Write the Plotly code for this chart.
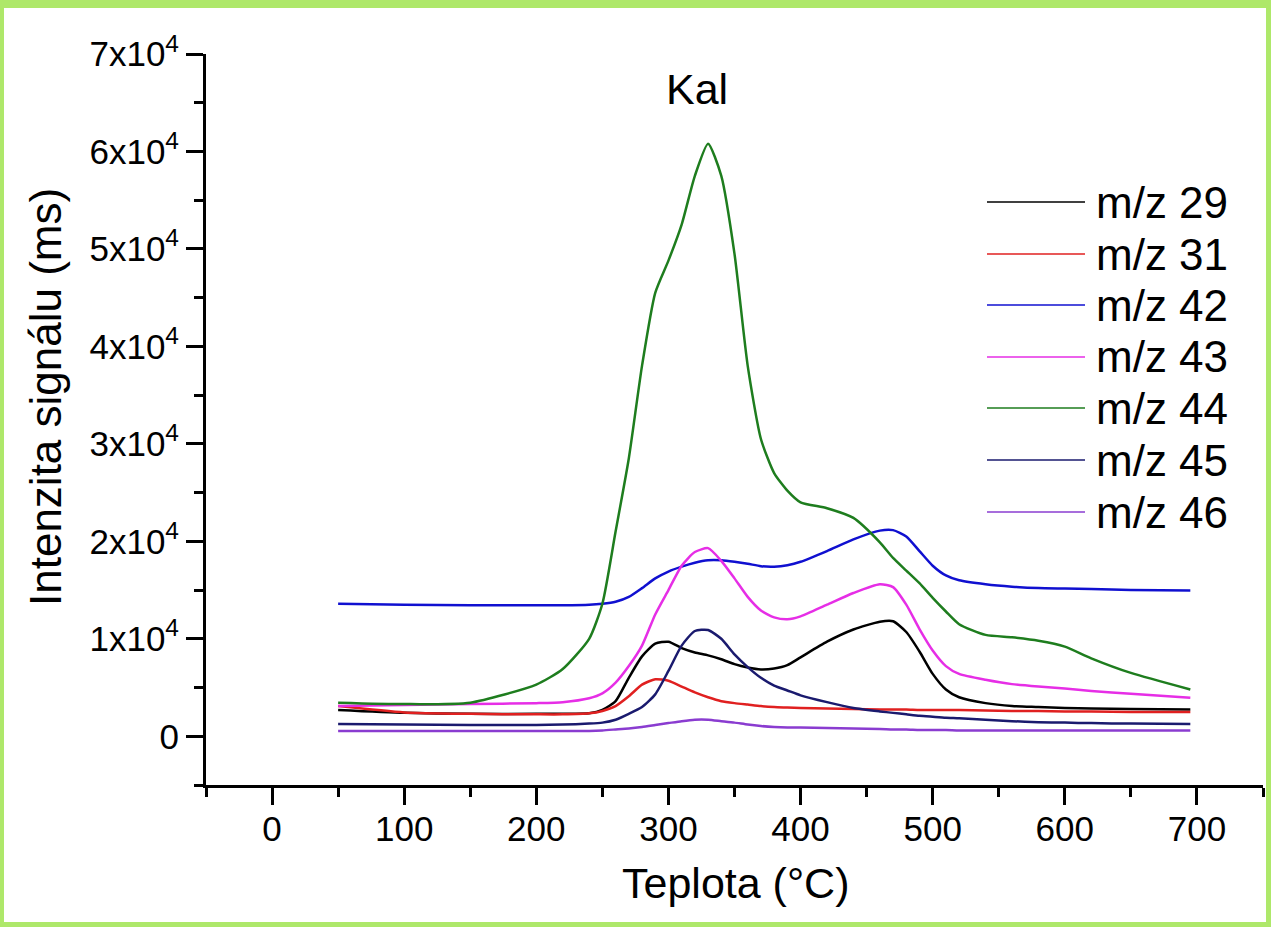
import plotly.graph_objects as go

# ---------------- data ----------------
temperature = [50, 100, 150, 200, 220, 240, 250, 260, 270, 280, 290, 300, 310, 320, 330,
               340, 350, 360, 370, 380, 390, 400, 420, 440, 460, 470, 480, 490, 500, 510,
               520, 540, 560, 580, 600, 620, 650, 695]

mz29 = [2700, 2400, 2300, 2300, 2300, 2350, 2700, 3600, 6000, 8200, 9500, 9700, 9050, 8600, 8300,
        7900, 7400, 7050, 6850, 6950, 7300, 8100, 9700, 10950, 11750, 11800, 10700, 8700, 6400, 4800,
        4000, 3400, 3100, 3000, 2900, 2850, 2800, 2750]
mz31 = [3100, 2450, 2300, 2250, 2250, 2350, 2600, 3100, 4100, 5300, 5850, 5700, 5100, 4500, 4000,
        3600, 3400, 3250, 3100, 3000, 2950, 2900, 2850, 2800, 2750, 2750, 2750, 2700, 2700, 2700,
        2700, 2650, 2600, 2600, 2550, 2550, 2500, 2500]
mz42 = [13600, 13500, 13450, 13450, 13450, 13500, 13600, 13800, 14300, 15200, 16200, 16900, 17400, 17800, 18050,
        18050, 17900, 17700, 17450, 17400, 17550, 17900, 19000, 20200, 21100, 21150, 20500, 19000, 17500, 16500,
        16000, 15600, 15350, 15200, 15150, 15100, 15000, 14950]
mz43 = [3100, 3200, 3300, 3400, 3500, 3900, 4400, 5500, 7200, 9300, 12500, 15000, 17500, 18900, 19300,
        18000, 16200, 14300, 12900, 12200, 12000, 12300, 13500, 14700, 15600, 15300, 13500, 11000, 8800, 7200,
        6400, 5800, 5350, 5100, 4900, 4650, 4350, 3950]
mz44 = [3450, 3300, 3450, 5300, 6900, 10000, 13600, 21000, 28500, 38000, 45500, 48800, 52500, 57500, 60800,
        57500, 49500, 38000, 30500, 27000, 25200, 24000, 23400, 22400, 19900, 18300, 17000, 15700, 14200, 12800,
        11500, 10400, 10150, 9800, 9200, 8000, 6500, 4800]
mz45 = [1250, 1200, 1150, 1150, 1200, 1300, 1400, 1700, 2300, 3000, 4300, 6700, 9300, 10800, 10900,
        10000, 8400, 7100, 6000, 5200, 4700, 4200, 3500, 2900, 2550, 2400, 2250, 2100, 2000, 1900,
        1850, 1700, 1550, 1450, 1400, 1350, 1300, 1250]
mz46 = [550, 550, 550, 550, 550, 550, 600, 700, 800, 950, 1150, 1350, 1550, 1700, 1700,
        1550, 1400, 1200, 1050, 950, 900, 900, 850, 800, 750, 700, 700, 650, 650, 650,
        600, 600, 600, 600, 600, 600, 600, 600]

series_names = ["m/z 29", "m/z 31", "m/z 42", "m/z 43", "m/z 44", "m/z 45", "m/z 46"]
series_values = [mz29, mz31, mz42, mz43, mz44, mz45, mz46]

x_tick_values = [0, 100, 200, 300, 400, 500, 600, 700]
x_tick_labels = ["0", "100", "200", "300", "400", "500", "600", "700"]
y_tick_values = [0, 10000, 20000, 30000, 40000, 50000, 60000, 70000]
y_tick_labels = ["0", "1x10<sup>4</sup>", "2x10<sup>4</sup>", "3x10<sup>4</sup>", "4x10<sup>4</sup>",
                 "5x10<sup>4</sup>", "6x10<sup>4</sup>", "7x10<sup>4</sup>"]

chart_title = "Kal"
x_title = "Teplota (°C)"
y_title = "Intenzita signálu (ms)"

# ---------------- styles ----------------
colors = ["#000000", "#e02020", "#1010d0", "#e62ee6", "#1e7d1e", "#1a1a6e", "#8a3cd0"]
FONT = "Liberation Sans, Arial, sans-serif"
W, H = 1271, 927
ML, MR, MT, MB = 206, 8, 54, 142
PW, PH = W - ML - MR, H - MT - MB


def px_to_paper_x(px):
    return (px - ML) / PW


def py_to_paper_y(py):
    return (H - MB - py) / PH


fig = go.Figure()
for name, vals, col in zip(series_names, series_values, colors):
    fig.add_trace(go.Scatter(
        x=temperature, y=vals, mode="lines", name=name,
        line=dict(color=col, width=2.5, shape="spline", smoothing=0.6),
        showlegend=False,
    ))

shapes = []
annotations = []

# custom legend (long sample lines like the original)
legend_rows_py = [202, 254, 305, 357, 408, 460, 512]
for name, col, py in zip(series_names, colors, legend_rows_py):
    yy = py_to_paper_y(py)
    shapes.append(dict(type="line", xref="paper", yref="paper",
                       x0=px_to_paper_x(987), x1=px_to_paper_x(1085), y0=yy, y1=yy,
                       line=dict(color=col, width=1.5)))
    annotations.append(dict(xref="paper", yref="paper", x=px_to_paper_x(1094), y=yy,
                            text=name, showarrow=False, xanchor="left", yanchor="middle",
                            font=dict(family=FONT, size=44, color="#000000")))

# y-axis title
annotations.append(dict(xref="paper", yref="paper", x=px_to_paper_x(46), y=py_to_paper_y(397),
                        text=y_title, textangle=-90, showarrow=False,
                        xanchor="center", yanchor="middle",
                        font=dict(family=FONT, size=44, color="#000000")))
# x-axis title
annotations.append(dict(xref="paper", yref="paper", x=px_to_paper_x(736), y=py_to_paper_y(883),
                        text=x_title, showarrow=False, xanchor="center", yanchor="middle",
                        font=dict(family=FONT, size=43, color="#000000")))
# chart title
annotations.append(dict(xref="paper", yref="paper", x=px_to_paper_x(697), y=py_to_paper_y(89),
                        text=chart_title, showarrow=False, xanchor="center", yanchor="middle",
                        font=dict(family=FONT, size=43, color="#000000")))

# green dotted page border
border_col = "#aee86a"
for (x0, x1, y0, y1) in [(0, 4, 0, H), (W - 5, W, 0, H), (0, W, 0, 8), (0, W, H - 5, H)]:
    shapes.append(dict(type="rect", xref="paper", yref="paper", layer="below",
                       x0=px_to_paper_x(x0), x1=px_to_paper_x(x1),
                       y0=py_to_paper_y(y1), y1=py_to_paper_y(y0),
                       fillcolor=border_col, line=dict(width=0)))

fig.update_layout(
    width=W, height=H,
    margin=dict(l=ML, r=MR, t=MT, b=MB, autoexpand=False),
    paper_bgcolor="white", plot_bgcolor="white",
    font=dict(family=FONT, color="#000000"),
    showlegend=False,
    shapes=shapes, annotations=annotations,
)

fig.update_xaxes(
    range=[-50, 750], showgrid=False, zeroline=False,
    showline=True, linecolor="#000000", linewidth=3,
    ticks="outside", ticklen=17, tickwidth=3, tickcolor="#000000",
    tickvals=x_tick_values, ticktext=x_tick_labels,
    tickfont=dict(family=FONT, size=35, color="#000000"),
    ticklabelstandoff=-6,
    minor=dict(dtick=50, tick0=0, ticks="outside", ticklen=9, tickwidth=3, tickcolor="#000000", showgrid=False),
)
fig.update_yaxes(
    range=[-5000, 70000], showgrid=False, zeroline=False,
    showline=True, linecolor="#000000", linewidth=3,
    ticks="outside", ticklen=17, tickwidth=3, tickcolor="#000000",
    tickvals=y_tick_values, ticktext=y_tick_labels,
    tickfont=dict(family=FONT, size=35, color="#000000"),
    minor=dict(dtick=5000, tick0=0, ticks="outside", ticklen=9, tickwidth=3, tickcolor="#000000", showgrid=False),
)

fig.write_html("out.html", config={"displayModeBar": False},
               post_script="document.body.style.margin='0px';document.body.style.overflow='hidden';")
